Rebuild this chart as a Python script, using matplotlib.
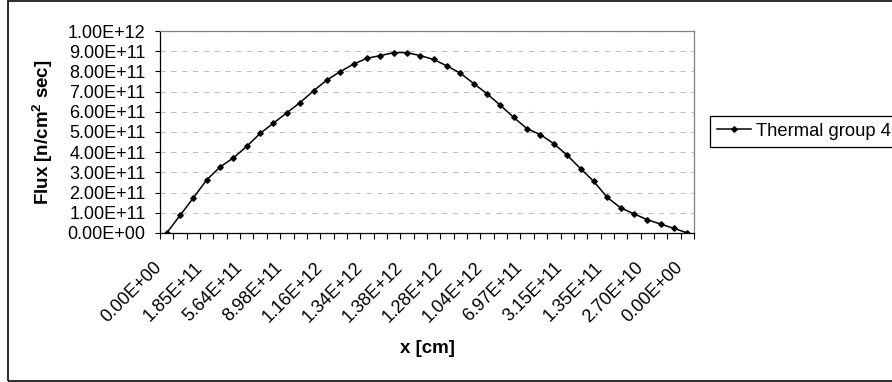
import matplotlib
matplotlib.use("Agg")
import matplotlib.pyplot as plt
import matplotlib.transforms as mtransforms
from matplotlib.patches import Rectangle
import numpy as np

plt.rcParams['font.family'] = ['Liberation Sans', 'DejaVu Sans']
plt.rcParams['mathtext.fontset'] = 'custom'
plt.rcParams['mathtext.rm'] = 'Liberation Sans'
plt.rcParams['mathtext.bf'] = 'Liberation Sans:bold'

# thermal flux, group 4 (units of 1e11)
flux = np.array([0.00, 0.87, 1.74, 2.63, 3.27, 3.72, 4.29, 4.93, 5.44, 5.95,
                 6.46, 7.04, 7.57, 7.99, 8.36, 8.65, 8.78, 8.93, 8.93, 8.78,
                 8.59, 8.27, 7.91, 7.40, 6.89, 6.32, 5.72, 5.16, 4.87, 4.42,
                 3.85, 3.19, 2.55, 1.76, 1.25, 0.95, 0.66, 0.44, 0.23, 0.00]) * 1e11

# only every 3rd category label is shown on the chart
x_labels = ['0.00E+00', '1.85E+11', '5.64E+11', '8.98E+11', '1.16E+12',
            '1.34E+12', '1.38E+12', '1.28E+12', '1.04E+12', '6.97E+11',
            '3.15E+11', '1.35E+11', '2.70E+10', '0.00E+00']
y_ticks = [0, 1e11, 2e11, 3e11, 4e11, 5e11, 6e11, 7e11, 8e11, 9e11, 1e12]

W, H = 892, 382
fig = plt.figure(figsize=(W / 100, H / 100), dpi=100)
ax = fig.add_axes([160 / W, 1 - 233 / H, 534 / W, 202 / H])

cats = np.arange(len(flux))
ax.plot(cats, flux, color='black', lw=1.1, marker='D', ms=2.8,
        label='Thermal group 4', zorder=3)

ax.set_xlim(-0.5, len(flux) - 0.5)
ax.set_ylim(0, 1e12)

ax.set_yticks(y_ticks)
ax.set_yticklabels([f"{v:.2E}" for v in y_ticks])
ax.set_xticks(cats[::3])
ax.set_xticklabels(x_labels, rotation=45, ha='right', va='top',
                   rotation_mode='anchor')
ax.set_xticks(np.arange(-0.5, len(flux)), minor=True)

ax.tick_params(axis='x', which='major', length=0, pad=18.5, labelsize=13)
ax.tick_params(axis='x', which='minor', length=4.3, width=0.8, direction='out')
ax.tick_params(axis='y', length=3.6, width=0.8, pad=6.7, labelsize=13)

offset = mtransforms.ScaledTranslation(-0.13, 0, fig.dpi_scale_trans)
for lbl in ax.get_xticklabels():
    lbl.set_transform(lbl.get_transform() + offset)

ax.yaxis.grid(True, color='#c0c0c0', lw=0.75, linestyle=(0, (5, 5.4)))
ax.set_axisbelow(True)

for s in ['left', 'bottom']:
    ax.spines[s].set_color('black')
    ax.spines[s].set_linewidth(0.9)
for s in ['top', 'right']:
    ax.spines[s].set_color('#808080')
    ax.spines[s].set_linewidth(0.9)

ax.set_ylabel(r'Flux [n/cm$^{\mathbf{2}}$ sec]', fontsize=13.5,
              fontweight='bold', va='center')
ax.yaxis.set_label_coords(-0.219, 0.5)
ax.set_xlabel('x [cm]', fontsize=13.5, fontweight='bold', va='center')
ax.xaxis.set_label_coords(0.5, -0.574)

leg = ax.legend(loc='upper left', bbox_to_anchor=(710 / W, 1 - 116 / H),
                bbox_transform=fig.transFigure, borderaxespad=0,
                fancybox=False, edgecolor='black', framealpha=1,
                handlelength=1.85, handletextpad=0.27, borderpad=0.37,
                fontsize=13.2)
leg.get_frame().set_linewidth(0.9)

# chart area border
fig.patches.append(Rectangle((8 / W, 0.8 / H), 1.0, (381.2 - 0.8) / H,
                             transform=fig.transFigure, fill=False,
                             edgecolor='#1a1a1a', lw=1.3))

fig.savefig('out.png', dpi=100)
